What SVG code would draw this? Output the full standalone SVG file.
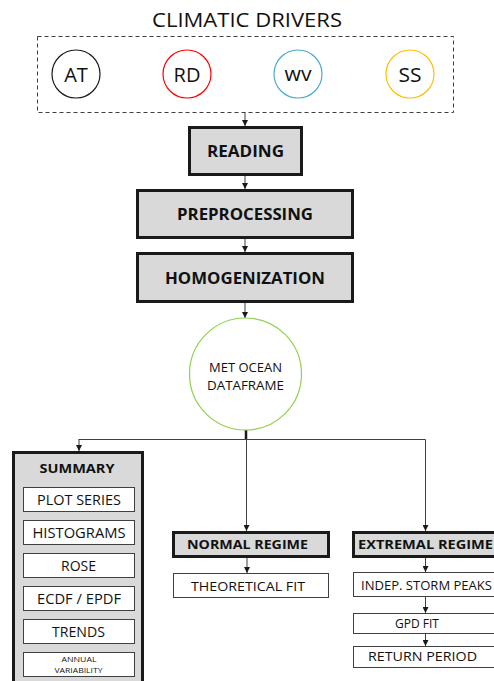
<svg xmlns="http://www.w3.org/2000/svg" width="494" height="681" viewBox="0 0 494 681">
<style>
 text{font-family:"Open Sans","Liberation Sans",sans-serif;fill:#111111;text-anchor:middle}
 .b{font-weight:bold}
 .main{fill:#d9d9d9;stroke:#1a1a1a;stroke-width:3}
 .sub{fill:#ffffff;stroke:#404040;stroke-width:1}
 .con{stroke:#404040;stroke-width:1;fill:none}
 .arr{marker-end:url(#ah)}
 .drv{fill:#ffffff;stroke-width:1.2}
</style>
<defs>
 <marker id="ah" markerWidth="6" markerHeight="6" refX="6" refY="3" orient="auto" markerUnits="userSpaceOnUse">
  <path d="M0,0 L6,3 L0,6 z" fill="#1a1a1a"/>
 </marker>
</defs>
<rect width="494" height="681" fill="#ffffff"/>

<g id="connectors">
 <path class="con arr" d="M245 112.5 V126"/>
 <path class="con arr" d="M245 175 V189"/>
 <path class="con arr" d="M245 238 V252"/>
 <path class="con arr" d="M245 302 V318"/>
 <path d="M246 430 V439" stroke="#1a1a1a" stroke-width="2.5" fill="none"/>
 <path class="con" d="M78.5 439.5 H425.5"/>
 <path class="con arr" d="M79 439.5 V451"/>
 <path class="con arr" d="M246.5 439.5 V531"/>
 <path class="con arr" d="M425.5 439.5 V531"/>
 <path class="con arr" d="M247 558 V573"/>
 <path class="con arr" d="M425.5 558 V572"/>
 <path class="con arr" d="M425.5 597 V613"/>
 <path class="con arr" d="M425.5 633 V646"/>
</g>

<g id="climatic-drivers">
 <text x="247" y="27" font-size="20" textLength="190" lengthAdjust="spacingAndGlyphs">CLIMATIC DRIVERS</text>
 <rect x="37.5" y="36.5" width="416" height="76" fill="none" stroke="#404040" stroke-width="1" stroke-dasharray="4 3"/>
</g>
<g id="node-AT">
 <circle class="drv" cx="76" cy="74" r="24" stroke="#1a1a1a"/>
 <text x="76" y="81.5" font-size="20">AT</text>
</g>
<g id="node-RD">
 <circle class="drv" cx="187" cy="74" r="24" stroke="#ff0000"/>
 <text x="187" y="81.5" font-size="20">RD</text>
</g>
<g id="node-WV">
 <circle class="drv" cx="298" cy="74" r="24" stroke="#4bacc6"/>
 <text x="298" y="80.5" font-size="20" textLength="27" lengthAdjust="spacingAndGlyphs">wv</text>
</g>
<g id="node-SS">
 <circle class="drv" cx="410" cy="74" r="24" stroke="#ffc000"/>
 <text x="410" y="81.5" font-size="20" textLength="23" lengthAdjust="spacingAndGlyphs">SS</text>
</g>

<g id="node-reading">
 <rect class="main" x="189.5" y="127.5" width="112" height="47"/>
 <text class="b" x="245.5" y="157" font-size="16" textLength="77" lengthAdjust="spacingAndGlyphs">READING</text>
</g>
<g id="node-preprocessing">
 <rect class="main" x="137.5" y="190.5" width="215" height="47"/>
 <text class="b" x="245" y="220" font-size="16" textLength="136" lengthAdjust="spacingAndGlyphs">PREPROCESSING</text>
</g>
<g id="node-homogenization">
 <rect class="main" x="137.5" y="253.5" width="215" height="48"/>
 <text class="b" x="245" y="284" font-size="16.5" textLength="160" lengthAdjust="spacingAndGlyphs">HOMOGENIZATION</text>
</g>

<g id="node-dataframe">
 <circle cx="245.5" cy="374" r="56" fill="#ffffff" stroke="#92d050" stroke-width="1.2"/>
 <text x="245.5" y="371.5" font-size="13" textLength="73" lengthAdjust="spacingAndGlyphs">MET OCEAN</text>
 <text x="245.5" y="389.5" font-size="13" textLength="77" lengthAdjust="spacingAndGlyphs">DATAFRAME</text>
</g>

<g id="node-summary">
 <rect class="main" x="13.5" y="452.5" width="129" height="240"/>
 <text class="b" x="77" y="473" font-size="13" textLength="75" lengthAdjust="spacingAndGlyphs">SUMMARY</text>
</g>
<g id="node-plot-series">
 <rect class="sub" x="23.5" y="487.5" width="111" height="24"/>
 <text x="79" y="505" font-size="14" textLength="84" lengthAdjust="spacingAndGlyphs">PLOT SERIES</text>
</g>
<g id="node-histograms">
 <rect class="sub" x="23.5" y="520.5" width="111" height="24"/>
 <text x="79" y="538" font-size="14" textLength="93" lengthAdjust="spacingAndGlyphs">HISTOGRAMS</text>
</g>
<g id="node-rose">
 <rect class="sub" x="23.5" y="553.5" width="111" height="24"/>
 <text x="78.5" y="571" font-size="14" textLength="35" lengthAdjust="spacingAndGlyphs">ROSE</text>
</g>
<g id="node-ecdf">
 <rect class="sub" x="23.5" y="586.5" width="111" height="24"/>
 <text x="79" y="604" font-size="14" textLength="84" lengthAdjust="spacingAndGlyphs">ECDF / EPDF</text>
</g>
<g id="node-trends">
 <rect class="sub" x="23.5" y="619.5" width="111" height="24"/>
 <text x="78.5" y="637" font-size="14" textLength="53" lengthAdjust="spacingAndGlyphs">TRENDS</text>
</g>
<g id="node-annual">
 <rect class="sub" x="23.5" y="652.5" width="111" height="24"/>
 <text x="79" y="662" font-size="7" textLength="35" lengthAdjust="spacingAndGlyphs">ANNUAL</text>
 <text x="78.5" y="673" font-size="7" textLength="48" lengthAdjust="spacingAndGlyphs">VARIABILITY</text>
</g>

<g id="node-normal-regime">
 <rect class="main" x="173.5" y="532.5" width="155" height="24"/>
 <text class="b" x="247.5" y="549" font-size="13" textLength="121" lengthAdjust="spacingAndGlyphs">NORMAL REGIME</text>
</g>
<g id="node-theoretical-fit">
 <rect class="sub" x="173.5" y="573.5" width="155" height="24"/>
 <text x="248" y="591" font-size="13" textLength="114" lengthAdjust="spacingAndGlyphs">THEORETICAL FIT</text>
</g>

<g id="node-extremal-regime">
 <rect class="main" x="353.5" y="532.5" width="146" height="24"/>
 <text class="b" x="425.5" y="549" font-size="13" textLength="135" lengthAdjust="spacingAndGlyphs">EXTREMAL REGIME</text>
</g>
<g id="node-storm-peaks">
 <rect class="sub" x="353.5" y="572.5" width="146" height="24"/>
 <text x="426.5" y="590" font-size="12.5" textLength="131" lengthAdjust="spacingAndGlyphs">INDEP. STORM PEAKS</text>
</g>
<g id="node-gpd-fit">
 <rect class="sub" x="353.5" y="613.5" width="146" height="20"/>
 <text x="417" y="628" font-size="13" textLength="44" lengthAdjust="spacingAndGlyphs">GPD FIT</text>
</g>
<g id="node-return-period">
 <rect class="sub" x="353.5" y="646.5" width="146" height="21"/>
 <text x="422.5" y="661" font-size="12.5" textLength="109" lengthAdjust="spacingAndGlyphs">RETURN PERIOD</text>
</g>
</svg>
